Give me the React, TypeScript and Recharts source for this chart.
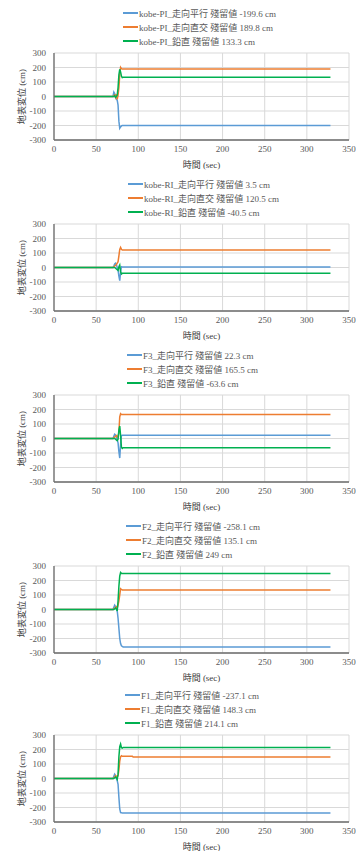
import { LineChart, Line, XAxis, YAxis, CartesianGrid, Legend, Label } from "recharts";

const xTicks = [0, 50, 100, 150, 200, 250, 300, 350];
const yTicks = [-300, -200, -100, 0, 100, 200, 300];

// kobe-PI
const piTime = [0, 70, 71, 72, 73, 74, 75, 76, 77, 78, 79, 80, 81, 82, 85, 328];
const piParallel = [0, 0, 30, 20, -5, -20, -25, -60, -170, -219, -210, -203, -200, -200, -199.6, -199.6];
const piCross = [0, 0, 5, 10, -5, 15, -19, 10, 60, 150, 201, 192, 190, 190, 189.8, 189.8];
const piVertical = [0, 0, 0, 5, -5, 0, 10, 60, 150, 188, 170, 140, 130, 132, 133.3, 133.3];

// kobe-RI
const riTime = [0, 70, 71, 72, 73, 74, 75, 76, 77, 78, 79, 80, 81, 82, 85, 328];
const riParallel = [0, 0, 10, 25, 30, 20, 0, -20, -60, -91, -30, 5, 3.5, 3.5, 3.5, 3.5];
const riCross = [0, 0, 5, 10, 15, 20, 30, 40, 80, 125, 139, 125, 120.5, 120.5, 120.5, 120.5];
const riVertical = [0, 0, 0, 0, -5, -10, -15, -20, 5, 17, -30, -45, -40.5, -40.5, -40.5, -40.5];

// F3
const f3Time = [0, 70, 71, 72, 73, 74, 75, 76, 77, 78, 79, 80, 81, 82, 85, 328];
const f3Parallel = [0, 0, 15, 30, 25, 10, -10, -30, -90, -135, -40, 20, 22.3, 22.3, 22.3, 22.3];
const f3Cross = [0, 0, 5, 10, 15, 20, 10, 20, 40, 150, 171, 165, 165.5, 165.5, 165.5, 165.5];
const f3Vertical = [0, 0, 0, 0, -5, -10, -15, -5, 60, 85, 20, -60, -68, -63.6, -63.6, -63.6];

// F2
const f2Time = [0, 70, 71, 72, 73, 74, 75, 76, 77, 78, 79, 80, 81, 82, 85, 328];
const f2Parallel = [0, 0, 15, 30, 20, 0, -10, -60, -130, -200, -235, -250, -255, -258.1, -258.1, -258.1];
const f2Cross = [0, 0, 5, 10, 15, 20, 10, 30, 60, 100, 143, 138, 135.1, 135.1, 135.1, 135.1];
const f2Vertical = [0, 0, 0, 5, 10, 5, -10, 60, 160, 230, 255, 249, 249, 249, 249, 249];

// F1
const f1Time = [0, 70, 71, 72, 73, 74, 75, 76, 77, 78, 79, 80, 81, 82, 85, 93, 94, 328];
const f1Parallel = [0, 0, 15, 30, 20, 0, -15, -40, -130, -210, -235, -237, -237.1, -237.1, -237.1, -237.1, -237.1, -237.1];
const f1Cross = [0, 0, 5, 10, 20, 15, 10, 20, 60, 120, 150, 157, 153, 153, 153, 153, 148.3, 148.3];
const f1Vertical = [0, 0, 0, 5, 10, 5, -5, 30, 150, 220, 238, 212, 210, 214.1, 214.1, 214.1, 214.1, 214.1];

const names = [
  ["kobe-PI_走向平行 殘留値 -199.6 cm", "kobe-PI_走向直交 殘留値 189.8 cm", "kobe-PI_鉛直 殘留値 133.3 cm"],
  ["kobe-RI_走向平行 殘留値 3.5 cm", "kobe-RI_走向直交 殘留値 120.5 cm", "kobe-RI_鉛直 殘留値 -40.5 cm"],
  ["F3_走向平行 殘留値 22.3 cm", "F3_走向直交 殘留値 165.5 cm", "F3_鉛直 殘留値 -63.6 cm"],
  ["F2_走向平行 殘留値 -258.1 cm", "F2_走向直交 殘留値 135.1 cm", "F2_鉛直 殘留値 249 cm"],
  ["F1_走向平行 殘留値 -237.1 cm", "F1_走向直交 殘留値 148.3 cm", "F1_鉛直 殘留値 214.1 cm"],
];

const colors = ["#5B9BD5", "#ED7D31", "#00B050"];
const font = "'Liberation Serif', 'Noto Sans CJK JP', serif";

const build = (t: number[], a: number[], b: number[], c: number[]) =>
  t.map((x, i) => ({ t: x, a: a[i], b: b[i], c: c[i] }));

const charts = [
  { data: build(piTime, piParallel, piCross, piVertical), top: 0, legendLeft: 123 },
  { data: build(riTime, riParallel, riCross, riVertical), top: 171, legendLeft: 128 },
  { data: build(f3Time, f3Parallel, f3Cross, f3Vertical), top: 342, legendLeft: 127 },
  { data: build(f2Time, f2Parallel, f2Cross, f2Vertical), top: 513, legendLeft: 126 },
  { data: build(f1Time, f1Parallel, f1Cross, f1Vertical), top: 682, legendLeft: 125 },
];

const tickStyle = { fontSize: 9, fill: "#595959", fontFamily: font };

const LegendBox = ({ labels }: { labels: string[] }) => (
  <div style={{ fontFamily: font, fontSize: 9, color: "#595959" }}>
    {labels.map((l, i) => (
      <div key={i} style={{ height: 14, display: "flex", alignItems: "center", whiteSpace: "nowrap" }}>
        <svg width={15} height={4} style={{ marginRight: 1 }}>
          <line x1={0} y1={2} x2={15} y2={2} stroke={colors[i]} strokeWidth={2} />
        </svg>
        <span>{l}</span>
      </div>
    ))}
  </div>
);

const DispChart = ({ idx }: { idx: number }) => {
  const c = charts[idx];
  return (
    <div style={{ position: "absolute", top: c.top, left: 0, width: 358, height: 170 }}>
      <LineChart width={358} height={170} data={c.data} margin={{ top: 53, right: 9, bottom: 0, left: 0 }}>
        <CartesianGrid stroke="#d9d9d9" strokeWidth={1} />
        <XAxis
          dataKey="t"
          type="number"
          domain={[0, 350]}
          ticks={xTicks}
          height={30}
          tick={tickStyle}
          tickLine={false}
          tickSize={4}
          axisLine={{ stroke: "#6d6d6d", strokeWidth: 1.3 }}
        >
          <Label value="時間 (sec)" position="insideBottom" offset={2} style={{ fontSize: 9, fill: "#404040", fontFamily: font }} />
        </XAxis>
        <YAxis
          type="number"
          domain={[-300, 300]}
          ticks={yTicks}
          width={54}
          tick={tickStyle}
          tickLine={false}
          interval={0}
          axisLine={{ stroke: "#6d6d6d", strokeWidth: 1.3 }}
        >
          <Label
            value="地表変位 (cm)"
            position="insideLeft"
            angle={-90}
            offset={22}
            style={{ fontSize: 9, fill: "#404040", fontFamily: font, textAnchor: "middle" }}
          />
        </YAxis>
        <Legend
          layout="horizontal"
          verticalAlign="middle"
          align="center"
          wrapperStyle={{ top: 6, left: c.legendLeft, width: "auto" }}
          content={() => <LegendBox labels={names[idx]} />}
        />
        <Line type="linear" dataKey="a" name={names[idx][0]} stroke={colors[0]} strokeWidth={1.5} dot={false} isAnimationActive={false} />
        <Line type="linear" dataKey="b" name={names[idx][1]} stroke={colors[1]} strokeWidth={1.5} dot={false} isAnimationActive={false} />
        <Line type="linear" dataKey="c" name={names[idx][2]} stroke={colors[2]} strokeWidth={1.5} dot={false} isAnimationActive={false} />
      </LineChart>
    </div>
  );
};

export default function App() {
  return (
    <div style={{ position: "absolute", top: 0, left: 0, width: 358, height: 851, background: "#fff" }}>
      {charts.map((_, i) => (
        <DispChart key={i} idx={i} />
      ))}
    </div>
  );
}
